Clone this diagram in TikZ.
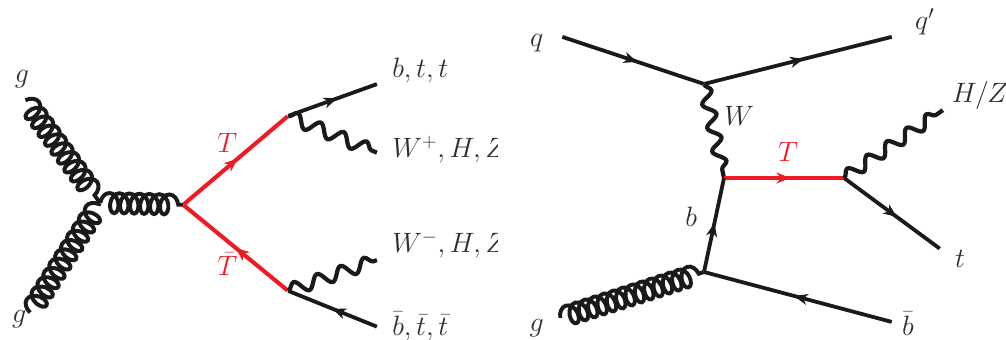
\documentclass[tikz,border=0pt]{standalone}
\usepackage{xcolor}
\usepackage{amsmath}
\usetikzlibrary{arrows.meta,decorations.markings,decorations.pathmorphing}
\definecolor{LineBlack}{HTML}{1A1A1A}
\definecolor{LabelGrey}{HTML}{2E2E2E}
\definecolor{TopRed}{HTML}{ED1C24}
\tikzset{
  fermion/.style={
    draw=LineBlack,
    line width=2.7pt,
    postaction={decorate},
    decoration={markings,mark=at position #1 with {\arrow[LineBlack,line width=.6pt]{Stealth[length=3.4mm,width=2.8mm,inset=1.1mm]}}}
  },
  fermion/.default=.5,
  topquark/.style={
    draw=TopRed,
    line width=2.9pt,
    postaction={decorate},
    decoration={markings,mark=at position #1 with {\arrow[TopRed,line width=.6pt]{Stealth[length=3.4mm,width=2.8mm,inset=1.1mm]}}}
  },
  topquark/.default=.5,
  boson/.style={
    draw=LineBlack,
    line width=3pt,
    decorate,
    decoration={snake,segment length=6.2mm,amplitude=1.6mm}
  },
  gluon/.style={
    draw=LineBlack,
    line width=2.8pt,
    decorate,
    decoration={coil,aspect=.65,segment length=2.75mm,amplitude=2.5mm}
  },
  label/.style={text=LabelGrey,font=\fontsize{19.5}{22}\selectfont,inner sep=0pt,anchor=base,transform shape,scale=.96},
  toplabel/.style={label,text=TopRed},
  vertex/.style={inner sep=0pt,minimum size=0pt}
}
\begin{document}
\begin{tikzpicture}[x=1cm,y=1cm]
  \useasboundingbox (0,0) rectangle (25.15,8.5);

  % pair production
  \node[vertex] (gtop) at (0.63,6.0) {};
  \node[vertex] (gbot) at (0.75,0.68) {};
  \node[vertex] (gv) at (2.5,3.43) {};
  \node[vertex] (tv) at (4.58,3.38) {};
  \node[vertex] (tu) at (7.2,5.6) {};
  \node[vertex] (tl) at (7.2,1.23) {};
  \node[vertex] (bu) at (9.43,6.4) {};
  \node[vertex] (wu) at (9.43,4.68) {};
  \node[vertex] (wl) at (9.43,2.0) {};
  \node[vertex] (bl) at (9.43,0.33) {};

  \draw[gluon] (gtop) -- (gv);
  \draw[gluon] (gbot) -- (gv);
  \draw[gluon,decoration={segment length=2.5mm}] (gv) -- (tv);
  \draw[topquark=.52] (tv) -- (tu);
  \draw[topquark=.5] (tl) -- (tv);
  \draw[fermion=.55] (tu) -- (bu);
  \draw[boson] (tu) -- (wu);
  \draw[boson] (tl) -- (wl);
  \draw[fermion=.5] (bl) -- (tl);

  \node[label] (lgtop) at (0.55,6.43) {$g$};
  \node[label] (lgbot) at (0.48,0.43) {$g$};
  \node[toplabel] (lT) at (5.68,4.68) {$T$};
  \node[toplabel] (lTbar) at (5.68,1.6) {$\bar{T}$};
  \node[label,anchor=base west] (lbu) at (9.8,6.55) {$b,t,t$};
  \begin{scope}
    \clip (9.5,0) rectangle (12.43,8.5);
    \node[label,anchor=base west] (lwu) at (9.8,4.55) {$W^{+},H,Z$};
    \node[label,anchor=base west] (lwl) at (9.8,2.18) {$W^{-},H,Z$};
  \end{scope}
  \node[label,anchor=base west] (lbl) at (9.8,0.12) {$\bar{b},\bar{t},\bar{t}$};

  % single production
  \node[vertex] (qin) at (14.05,7.58) {};
  \node[vertex] (qv) at (17.6,6.4) {};
  \node[vertex] (qout) at (22.3,7.58) {};
  \node[vertex] (wv) at (18.1,4.05) {};
  \node[vertex] (hv) at (21.1,4.05) {};
  \node[vertex] (hz) at (23.58,5.75) {};
  \node[vertex] (tout) at (23.5,2.28) {};
  \node[vertex] (bv) at (17.6,1.7) {};
  \node[vertex] (gin) at (14.0,0.55) {};
  \node[vertex] (bout) at (22.3,0.45) {};

  \draw[fermion=.53] (qin) -- (qv);
  \draw[fermion=.53] (qv) -- (qout);
  \draw[boson,decoration={segment length=6mm,amplitude=1.5mm}] (qv) -- (wv);
  \draw[topquark=.55] (wv) -- (hv);
  \draw[boson,decoration={segment length=6mm,amplitude=1.5mm}] (hv) -- (hz);
  \draw[fermion=.55] (hv) -- (tout);
  \draw[fermion=.52] (bv) -- (wv);
  \draw[gluon,decoration={segment length=2.45mm}] (gin) -- (bv);
  \draw[fermion=.52] (bout) -- (bv);

  \node[label] (lq) at (13.42,7.33) {$q$};
  \node[label] (lqp) at (23.12,7.75) {$q'$};
  \node[label] (lW) at (18.48,5.35) {$W$};
  \node[toplabel] (lTs) at (19.7,4.45) {$T$};
  \node[label] (lb) at (17.28,2.83) {$b$};
  \node[label] (lgs) at (13.42,0.2) {$g$};
  \node[label] (lHZ) at (24.5,5.93) {$H/Z$};
  \node[label] (lt) at (24.0,1.8) {$t$};
  \node[label] (lbbar) at (22.7,0.12) {$\bar{b}$};
\end{tikzpicture}
\end{document}
